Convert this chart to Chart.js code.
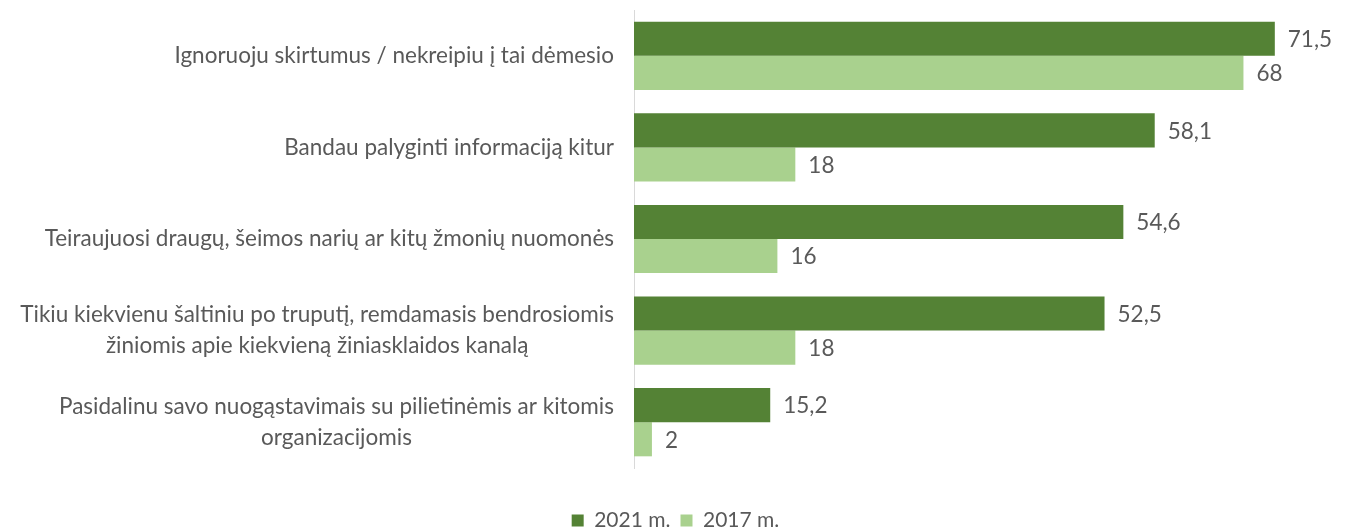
<!DOCTYPE html>
<html>
<head>
<meta charset="utf-8">
<script src="https://cdn.jsdelivr.net/npm/chart.js@4.4.0/dist/chart.umd.min.js"></script>
<style>
    html, body { margin: 0; padding: 0; background: #fff; }
    #wrap { width: 1351px; height: 529px; position: relative; }
</style>
</head>
<body>
<div id="wrap"><canvas id="chart"></canvas></div>
<script>
// categories (multi-line ones split into lines)
const categories = [
    ['Ignoruoju skirtumus / nekreipiu į tai dėmesio'],
    ['Bandau palyginti informaciją kitur'],
    ['Teiraujuosi draugų, šeimos narių ar kitų žmonių nuomonės'],
    ['Tikiu kiekvienu šaltiniu po truputį, remdamasis bendrosiomis', 'žiniomis apie kiekvieną žiniasklaidos kanalą'],
    ['Pasidalinu savo nuogąstavimais su pilietinėmis ar kitomis', 'organizacijomis']
];
const values2021 = [71.5, 58.1, 54.6, 52.5, 15.2];
const values2017 = [68, 18, 16, 18, 2];
const seriesNames = ['2021 m.', '2017 m.'];

const FONT = 'Lato, "Liberation Sans", sans-serif';
const TEXT = '#595959';

// y-axis labels drawn by hand so wrapped lines can be centred like the source
const catLabels = {
    id: 'catLabels',
    afterDraw(chart) {
        const y = chart.scales.y;
        const ctx = chart.ctx;
        const right = chart.chartArea.left - 20;
        const lineH = 31;
        ctx.save();
        ctx.font = '22.5px ' + FONT;
        ctx.fillStyle = TEXT;
        ctx.textBaseline = 'middle';
        ctx.textAlign = 'center';
        categories.forEach((lines, i) => {
            const cy = y.getPixelForValue(i);
            const maxW = Math.max(...lines.map(l => ctx.measureText(l).width));
            const cx = right - maxW / 2;
            const top = cy - (lines.length - 1) * lineH / 2;
            lines.forEach((l, j) => ctx.fillText(l, cx, top + j * lineH));
        });
        ctx.restore();
    }
};

// value labels after each bar
const valueLabels = {
    id: 'valueLabels',
    afterDatasetsDraw(chart) {
        const ctx = chart.ctx;
        ctx.save();
        ctx.font = '22.5px ' + FONT;
        ctx.fillStyle = TEXT;
        ctx.textBaseline = 'middle';
        ctx.textAlign = 'left';
        chart.data.datasets.forEach((ds, di) => {
            chart.getDatasetMeta(di).data.forEach((bar, i) => {
                const txt = String(ds.data[i]).replace('.', ',');
                ctx.fillText(txt, bar.x + 13, bar.y + 1);
            });
        });
        ctx.restore();
    }
};

new Chart(document.getElementById('chart'), {
    type: 'bar',
    data: {
        labels: categories.map(c => c.join(' ')),
        datasets: [{
            label: seriesNames[0],
            data: values2021,
            backgroundColor: '#548235',
            barPercentage: 1,
            categoryPercentage: 0.745
        }, {
            label: seriesNames[1],
            data: values2017,
            backgroundColor: '#A9D18E',
            barPercentage: 1,
            categoryPercentage: 0.745
        }]
    },
    options: {
        indexAxis: 'y',
        responsive: true,
        maintainAspectRatio: false,
        animation: false,
        layout: { padding: { top: 10, bottom: -12, left: 0, right: 0 } },
        scales: {
            x: {
                min: 0,
                max: 80,
                grid: { display: false },
                border: { display: false },
                ticks: { display: false },
                afterFit: s => { s.height = 32; }
            },
            y: {
                grid: { display: false },
                border: { display: true, color: '#d9d9d9' },
                ticks: { display: false },
                afterFit: s => { s.width = 634; }
            }
        },
        plugins: {
            legend: {
                position: 'bottom',
                labels: {
                    color: TEXT,
                    font: { family: FONT, size: 21 },
                    boxWidth: 12,
                    boxHeight: 12,
                    padding: 10
                }
            },
            tooltip: { enabled: false }
        }
    },
    plugins: [catLabels, valueLabels]
});
</script>
</body>
</html>
